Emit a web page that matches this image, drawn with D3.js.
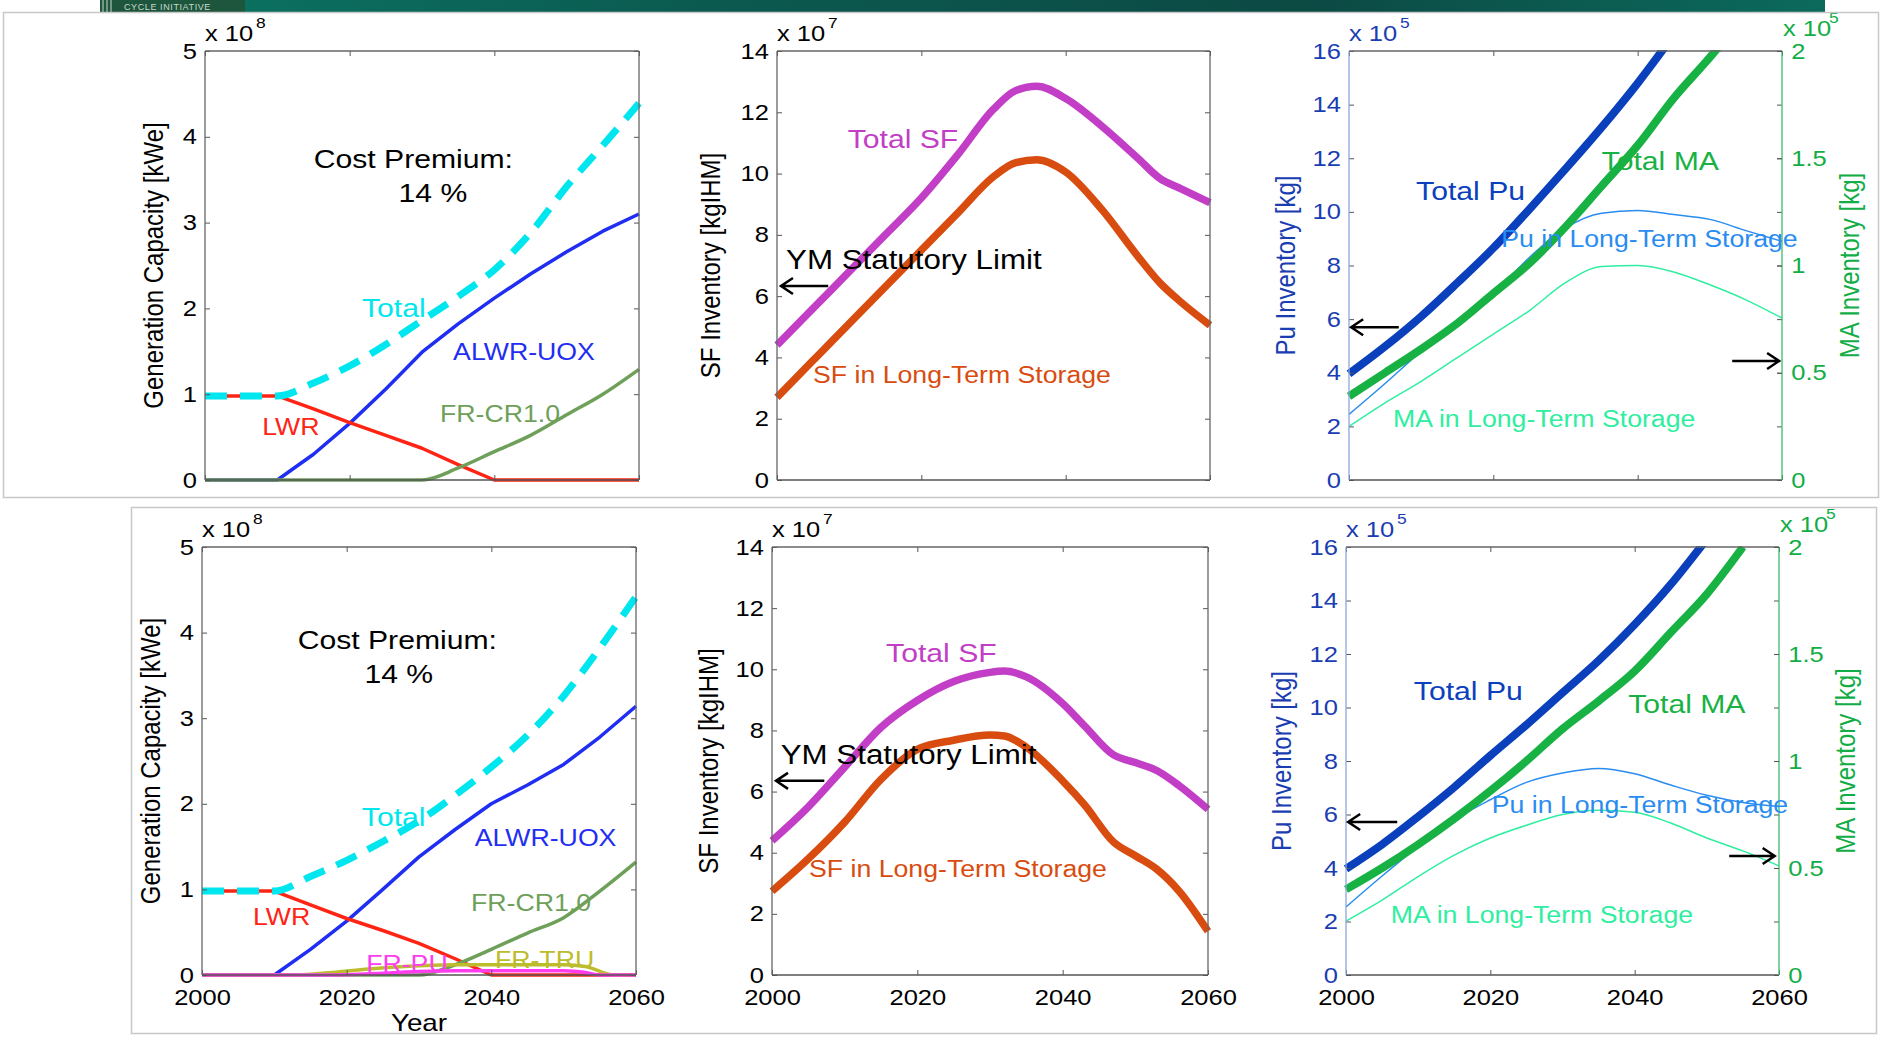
<!DOCTYPE html>
<html>
<head>
<meta charset="utf-8">
<script src="https://cdn.jsdelivr.net/npm/d3@7"></script>
<style>
  body { margin: 0; background: #fff; }
  svg { display: block; }
  text { font-family: "Liberation Sans", Arial, Helvetica, sans-serif; }
</style>
</head>
<body>
<svg id="chart"></svg>
<script>
// ---- data ----
const years = [2000, 2005, 2010, 2015, 2020, 2025, 2030, 2035, 2040, 2045, 2050, 2055, 2060];

// generation capacity, x 1e8 kWe
const capTotalTop = [0.98, 0.98, 0.98, 1.13, 1.33, 1.58, 1.86, 2.14, 2.45, 2.88, 3.42, 3.9, 4.39];
const lwrTop      = [0.98, 0.98, 0.98, 0.83, 0.67, 0.52, 0.37, 0.18, 0, 0, 0, 0, 0];
const alwrTop     = [0, 0, 0, 0.3, 0.66, 1.06, 1.49, 1.82, 2.12, 2.4, 2.66, 2.9, 3.1];
const frcrTop     = [0, 0, 0, 0, 0, 0, 0, 0.14, 0.33, 0.52, 0.76, 1.0, 1.29];

const capTotalBot = [0.98, 0.98, 0.98, 1.15, 1.34, 1.56, 1.8, 2.1, 2.43, 2.8, 3.26, 3.82, 4.42];
const lwrBot      = [0.98, 0.98, 0.98, 0.82, 0.66, 0.52, 0.37, 0.19, 0, 0, 0, 0, 0];
const alwrBot     = [0, 0, 0, 0.3, 0.63, 1.0, 1.38, 1.7, 2.0, 2.22, 2.46, 2.78, 3.14];
const frcrBot     = [0, 0, 0, 0, 0, 0, 0, 0.12, 0.3, 0.49, 0.67, 0.98, 1.32];
const truYears    = [2000, 2013, 2018, 2023, 2028, 2035, 2050, 2053, 2057, 2060];
const frtruBot    = [0, 0, 0.03, 0.07, 0.1, 0.12, 0.12, 0.1, 0, 0];
const frpuYears   = [2000, 2018, 2025, 2030, 2035, 2050, 2053, 2055, 2060];
const frpuBot     = [0, 0, 0.02, 0.04, 0.05, 0.05, 0.03, 0, 0];

// spent fuel inventory, x 1e7 kgIHM
const sfYearsTop  = [2000, 2005, 2010, 2015, 2020, 2025, 2030, 2033, 2036, 2040, 2045, 2050, 2053, 2056, 2060];
const sfTotalTop  = [4.4, 5.6, 6.8, 8.0, 9.2, 10.6, 12.1, 12.7, 12.85, 12.45, 11.55, 10.5, 9.85, 9.5, 9.05];
const sfLtsTop    = [2.7, 3.9, 5.1, 6.3, 7.5, 8.7, 9.9, 10.35, 10.45, 10.05, 8.83, 7.3, 6.45, 5.8, 5.05];

const sfYearsBot  = [2000, 2005, 2010, 2015, 2020, 2025, 2030, 2032, 2035, 2040, 2043, 2047, 2050, 2053, 2056, 2060];
const sfTotalBot  = [4.39, 5.5, 6.8, 8.1, 8.98, 9.6, 9.9, 9.94, 9.75, 8.88, 8.15, 7.2, 6.95, 6.68, 6.2, 5.42];
const sfLtsBot    = [2.74, 3.8, 5.0, 6.4, 7.38, 7.68, 7.85, 7.82, 7.45, 6.35, 5.57, 4.35, 3.9, 3.45, 2.75, 1.43];

// Pu inventory (x 1e5 kg, left axis) and MA inventory (x 1e5 kg, right axis)
const puYearsTop  = [2000, 2005, 2010, 2015, 2020, 2025, 2030, 2035, 2040, 2045];
const puTotalTop  = [3.96, 4.98, 6.1, 7.35, 8.65, 10.1, 11.6, 13.15, 14.8, 16.6];
const maYearsTop  = [2000, 2005, 2010, 2015, 2020, 2025, 2030, 2035, 2040, 2045, 2050, 2052];
const maTotalTop  = [0.39, 0.5, 0.61, 0.73, 0.87, 1.01, 1.18, 1.37, 1.56, 1.78, 1.97, 2.05];
const puLtsTop    = [2.45, 3.6, 4.8, 5.85, 6.95, 8.3, 9.4, 9.95, 10.05, 9.9, 9.72, 9.3, 8.9];
const maLtsTop    = [0.25, 0.36, 0.46, 0.57, 0.68, 0.79, 0.92, 0.995, 1.0, 0.97, 0.91, 0.84, 0.755];

const puYearsBot  = [2000, 2005, 2010, 2015, 2020, 2025, 2030, 2035, 2040, 2045, 2050];
const puTotalBot  = [3.97, 4.88, 5.92, 7.02, 8.2, 9.35, 10.55, 11.75, 13.1, 14.6, 16.3];
const maYearsBot  = [2000, 2005, 2010, 2015, 2020, 2025, 2030, 2035, 2040, 2045, 2050, 2055];
const maTotalBot  = [0.4, 0.5, 0.61, 0.73, 0.86, 1.0, 1.15, 1.28, 1.42, 1.6, 1.78, 2.0];
const puLtsBot    = [2.54, 3.7, 4.8, 5.8, 6.55, 7.2, 7.55, 7.72, 7.52, 7.1, 6.72, 6.45, 6.3];
const maLtsBot    = [0.252, 0.35, 0.46, 0.56, 0.64, 0.7, 0.75, 0.77, 0.76, 0.71, 0.64, 0.58, 0.51];

const xTicks = [2000, 2020, 2040, 2060];

// ---- setup ----
const W = 1881, H = 1038;
const SX = 1.16; // the slide is stretched sideways, so is its text
const svg = d3.select('#chart').attr('width', W).attr('height', H);

// banner strip at the very top
const grad = svg.append('defs').append('linearGradient').attr('id', 'band');
[['0%', '#1f5a3e'], ['8%', '#0b7060'], ['35%', '#0b5a50'], ['70%', '#0c4a44'], ['100%', '#0b6a5c']]
  .forEach(s => grad.append('stop').attr('offset', s[0]).attr('stop-color', s[1]));
svg.append('rect').attr('x', 100).attr('y', 0).attr('width', 1725).attr('height', 12).attr('fill', 'url(#band)');
svg.append('rect').attr('x', 100).attr('y', 0).attr('width', 145).attr('height', 12).attr('fill', '#1d563c');
[103, 107, 111].forEach(v => svg.append('line').attr('x1', v).attr('x2', v).attr('y1', 0).attr('y2', 12)
  .attr('stroke', '#c9d8cc').attr('stroke-width', 1));
svg.append('text').attr('x', 124).attr('y', 10).attr('font-size', 9).attr('fill', '#c9d8cc')
  .attr('letter-spacing', 0.6).text('CYCLE INITIATIVE');

function txt(g, x, y, s, o = {}) {
  return g.append('text')
    .attr('transform', `translate(${x},${y}) scale(${SX},1)` + (o.rotate ? ` rotate(${o.rotate})` : ''))
    .attr('text-anchor', o.anchor || 'start')
    .attr('font-size', o.size || 22)
    .attr('fill', o.color || '#000')
    .text(s);
}

let clipN = 0;
function makePanel(box, yMax) {
  const x = d3.scaleLinear().domain([2000, 2060]).range([box.x0, box.x1]);
  const y = d3.scaleLinear().domain([0, yMax]).range([box.y1, box.y0]);
  const g = svg.append('g');
  const id = 'clip' + (clipN++);
  svg.append('clipPath').attr('id', id).append('rect')
    .attr('x', box.x0 - 6).attr('y', box.y0 - 1)
    .attr('width', box.x1 - box.x0 + 12).attr('height', box.y1 - box.y0 + 8);
  const plot = g.append('g').attr('clip-path', `url(#${id})`);
  return { x, y, g, plot, box };
}

function styleAxis(sel, color, withText) {
  sel.select('.domain').remove();
  sel.selectAll('.tick line').attr('stroke', '#555').attr('stroke-width', 1);
  sel.selectAll('text')
    .attr('font-size', 22)
    .attr('font-family', '"Liberation Sans", Arial, sans-serif')
    .attr('fill', color)
    .attr('transform', `scale(${SX},1)`);
  if (!withText) sel.selectAll('text').remove();
}

function axes(p, o) {
  const { g, x, y, box } = p;
  g.append('g').attr('transform', `translate(0,${box.y1})`)
    .call(d3.axisBottom(x).tickValues(xTicks).tickSize(-5).tickPadding(14).tickFormat(d3.format('d')))
    .call(s => styleAxis(s, '#000', o.showX));
  g.append('g').attr('transform', `translate(0,${box.y0})`)
    .call(d3.axisTop(x).tickValues(xTicks).tickSize(-5))
    .call(s => styleAxis(s, '#000', false));
  g.append('g').attr('transform', `translate(${box.x0},0)`)
    .call(d3.axisLeft(y).tickValues(o.yTicks).tickSize(-5).tickPadding(7).tickFormat(d3.format('d')))
    .call(s => styleAxis(s, o.yColor || '#000', true));
  g.append('g').attr('transform', `translate(${box.x1},0)`)
    .call(d3.axisRight(y).tickValues(o.yTicks).tickSize(-5))
    .call(s => styleAxis(s, '#000', false));

  // box
  const line = (x1, y1, x2, y2, c) => g.append('line').attr('x1', x1).attr('y1', y1).attr('x2', x2).attr('y2', y2)
    .attr('stroke', c).attr('stroke-width', 1.3);
  line(box.x0, box.y0, box.x1, box.y0, '#666');
  line(box.x0, box.y1, box.x1, box.y1, '#555');
  line(box.x0, box.y0, box.x0, box.y1, o.leftLine || '#666');
  line(box.x1, box.y0, box.x1, box.y1, o.rightLine || '#666');

  // exponent
  const ec = o.yColor || '#000';
  txt(g, box.x0, box.y0 - 10, 'x 10', { size: 22, color: ec });
  txt(g, box.x0 + 51, box.y0 - 23, o.exp, { size: 15, color: ec });

  // y title
  txt(g, box.x0 - o.titleOff, (box.y0 + box.y1) / 2, o.title,
    { size: 24, anchor: 'middle', rotate: -90, color: o.yColor || '#000' });
}

function drawLine(p, xs, vals, yScale, st) {
  const data = xs.map((d, i) => [d, vals[i]]);
  p.plot.append('path').datum(data)
    .attr('fill', 'none')
    .attr('stroke', st.color)
    .attr('stroke-width', st.width)
    .attr('stroke-dasharray', st.dash || null)
    .attr('stroke-linejoin', 'round')
    .attr('d', d3.line().x(d => p.x(d[0])).y(d => yScale(d[1]))
      .curve(st.smooth ? d3.curveMonotoneX : d3.curveLinear));
}

function arrow(p, xFrom, xTo, v, yScale) {
  const x1 = p.x(xFrom), x2 = p.x(xTo), yy = yScale(v);
  const dir = x2 < x1 ? 1 : -1;
  p.g.append('path')
    .attr('d', `M${x1},${yy}L${x2},${yy}M${x2 + dir * 12},${yy - 8}L${x2},${yy}L${x2 + dir * 12},${yy + 8}`)
    .attr('fill', 'none').attr('stroke', '#000').attr('stroke-width', 2.5);
}

function label(p, yr, v, s, color, size, anchor) {
  txt(p.g, p.x(yr), p.y(v), s, { color, size, anchor });
}

// ---- colours ----
const C = {
  total: '#00e6ef', lwr: '#ff2414', alwr: '#1f2ef2', frcr: '#6ea05a', frpu: '#ff3cf0', frtru: '#bcbc2c',
  sfTotal: '#c23ec6', sfLts: '#d84c10',
  puTotal: '#0b40bd', maTotal: '#18b244', puLts: '#2a8cf0', maLts: '#30eea0',
  puTick: '#1a3db2', maTick: '#12ad46'
};

// ---- panel builders ----
function capacityPanel(box, d, bottom) {
  const p = makePanel(box, 5);
  axes(p, { yTicks: [0, 1, 2, 3, 4, 5], showX: bottom, exp: '8', title: 'Generation Capacity [kWe]', titleOff: 42 });
  drawLine(p, years, d.alwr, p.y, { color: C.alwr, width: 3.5 });
  drawLine(p, years, d.lwr, p.y, { color: C.lwr, width: 3.5 });
  drawLine(p, years, d.frcr, p.y, { color: C.frcr, width: 3.5, smooth: true });
  if (d.tru) drawLine(p, truYears, d.tru, p.y, { color: C.frtru, width: 3.5, smooth: true });
  if (d.pu) drawLine(p, frpuYears, d.pu, p.y, { color: C.frpu, width: 3.5, smooth: true });
  drawLine(p, years, d.total, p.y, { color: C.total, width: 7, dash: '22,13', smooth: true });
  const L = d.labels;
  txt(p.g, p.x(L.cost[0]), p.y(L.cost[1]), 'Cost Premium:', { size: 26, anchor: 'middle' });
  txt(p.g, p.x(L.pct[0]), p.y(L.pct[1]), '14 %', { size: 26, anchor: 'middle' });
  label(p, L.total[0], L.total[1], 'Total', C.total, 26);
  label(p, L.alwr[0], L.alwr[1], 'ALWR-UOX', C.alwr, 23);
  label(p, L.lwr[0], L.lwr[1], 'LWR', C.lwr, 23);
  label(p, L.frcr[0], L.frcr[1], 'FR-CR1.0', C.frcr, 23);
  if (L.frpu) label(p, L.frpu[0], L.frpu[1], 'FR-PU', C.frpu, 23);
  if (L.frtru) label(p, L.frtru[0], L.frtru[1], 'FR-TRU', C.frtru, 23);
  if (bottom) txt(p.g, (box.x0 + box.x1) / 2, 1031, 'Year', { size: 24, anchor: 'middle' });
}

function sfPanel(box, d, bottom) {
  const p = makePanel(box, 14);
  axes(p, { yTicks: d3.range(0, 15, 2), showX: bottom, exp: '7', title: 'SF Inventory [kgIHM]', titleOff: d.titleOff });
  drawLine(p, d.years, d.lts, p.y, { color: C.sfLts, width: 7.5, smooth: true });
  drawLine(p, d.years, d.total, p.y, { color: C.sfTotal, width: 7.5, smooth: true });
  const L = d.labels;
  label(p, L.total[0], L.total[1], 'Total SF', C.sfTotal, 26);
  label(p, L.ym[0], L.ym[1], 'YM Statutory Limit', '#000', 27);
  arrow(p, L.arrow[0], L.arrow[1], L.arrow[2], p.y);
  label(p, L.lts[0], L.lts[1], 'SF in Long-Term Storage', C.sfLts, 23);
}

function puPanel(box, d, bottom) {
  const p = makePanel(box, 16);
  const yMA = d3.scaleLinear().domain([0, 2]).range([box.y1, box.y0]);
  axes(p, {
    yTicks: d3.range(0, 17, 2), showX: bottom, exp: '5', title: 'Pu Inventory [kg]', titleOff: d.titleOff,
    yColor: C.puTick, leftLine: '#8ea6dc', rightLine: '#3cbc6c'
  });
  // right axis for MA
  p.g.append('g').attr('transform', `translate(${box.x1},0)`)
    .call(d3.axisRight(yMA).tickValues([0, 0.5, 1, 1.5, 2]).tickSize(-5).tickPadding(8).tickFormat(d3.format('~g')))
    .call(s => styleAxis(s, C.maTick, true));
  txt(p.g, box.x1 + 1, box.y0 - 15, 'x 10', { size: 22, color: C.maTick });
  txt(p.g, box.x1 + 47, box.y0 - 28, '5', { size: 15, color: C.maTick });
  txt(p.g, box.x1 + d.rightOff, (box.y0 + box.y1) / 2, 'MA Inventory [kg]',
    { size: 24, anchor: 'middle', rotate: -90, color: C.maTick });

  drawLine(p, years, d.maLts, yMA, { color: C.maLts, width: 1.5, smooth: true });
  drawLine(p, years, d.puLts, p.y, { color: C.puLts, width: 1.5, smooth: true });
  drawLine(p, d.maYears, d.maTotal, yMA, { color: C.maTotal, width: 8, smooth: true });
  drawLine(p, d.puYears, d.puTotal, p.y, { color: C.puTotal, width: 8, smooth: true });
  const L = d.labels;
  label(p, L.puTotal[0], L.puTotal[1], 'Total Pu', C.puTotal, 26);
  label(p, L.maTotal[0], L.maTotal[1], 'Total MA', C.maTotal, 26);
  label(p, L.puLts[0], L.puLts[1], 'Pu in Long-Term Storage', C.puLts, 23);
  label(p, L.maLts[0], L.maLts[1], 'MA in Long-Term Storage', C.maLts, 23);
  arrow(p, L.left[0], L.left[1], L.left[2], p.y);
  arrow(p, L.right[0], L.right[1], L.right[2], p.y);
}

// ---- top row ----
capacityPanel({ x0: 205, x1: 639, y0: 51, y1: 480 }, {
  total: capTotalTop, lwr: lwrTop, alwr: alwrTop, frcr: frcrTop,
  labels: { cost: [2028.8, 3.64], pct: [2031.5, 3.24], total: [2021.7, 1.9], alwr: [2034.3, 1.4],
            lwr: [2007.9, 0.52], frcr: [2032.5, 0.68] }
}, false);

sfPanel({ x0: 777, x1: 1210, y0: 51, y1: 480 }, {
  years: sfYearsTop, total: sfTotalTop, lts: sfLtsTop, titleOff: 57,
  labels: { total: [2009.8, 10.84], ym: [2001.25, 6.89], arrow: [2007.1, 2000.55, 6.33], lts: [2005.0, 3.17] }
}, false);

puPanel({ x0: 1349, x1: 1782, y0: 51, y1: 480 }, {
  puYears: puYearsTop, puTotal: puTotalTop, maYears: maYearsTop, maTotal: maTotalTop,
  puLts: puLtsTop, maLts: maLtsTop, titleOff: 54, rightOff: 77,
  labels: { puTotal: [2009.3, 10.45], maTotal: [2035.0, 11.55], puLts: [2021.1, 8.7], maLts: [2006.1, 1.98],
            left: [2006.9, 2000.3, 5.7], right: [2053.1, 2059.6, 4.44] }
}, false);

// ---- bottom row ----
capacityPanel({ x0: 202, x1: 636, y0: 547, y1: 975 }, {
  total: capTotalBot, lwr: lwrBot, alwr: alwrBot, frcr: frcrBot, tru: frtruBot, pu: frpuBot,
  labels: { cost: [2027.0, 3.81], pct: [2027.2, 3.41], total: [2022.1, 1.74], alwr: [2037.7, 1.51],
            lwr: [2007.05, 0.58], frcr: [2037.2, 0.75], frpu: [2022.7, 0.035], frtru: [2040.5, 0.08] }
}, true);

sfPanel({ x0: 772, x1: 1208, y0: 547, y1: 975 }, {
  years: sfYearsBot, total: sfTotalBot, lts: sfLtsBot, titleOff: 54,
  labels: { total: [2015.7, 10.24], ym: [2001.2, 6.9], arrow: [2007.2, 2000.55, 6.35], lts: [2005.1, 3.2] }
}, true);

puPanel({ x0: 1346, x1: 1779, y0: 547, y1: 975 }, {
  puYears: puYearsBot, puTotal: puTotalBot, maYears: maYearsBot, maTotal: maTotalBot,
  puLts: puLtsBot, maLts: maLtsBot, titleOff: 55, rightOff: 76,
  labels: { puTotal: [2009.4, 10.28], maTotal: [2039.1, 9.79], puLts: [2020.2, 6.06], maLts: [2006.2, 1.94],
            left: [2007.1, 2000.3, 5.72], right: [2053.1, 2059.4, 4.45] }
}, true);

// slide frames around each row
svg.append('rect').attr('x', 3.5).attr('y', 12.5).attr('width', 1875).attr('height', 485)
  .attr('fill', 'none').attr('stroke', '#c8c8c8').attr('stroke-width', 1.5);
svg.append('rect').attr('x', 131.5).attr('y', 507.5).attr('width', 1745).attr('height', 526)
  .attr('fill', 'none').attr('stroke', '#c8c8c8').attr('stroke-width', 1.5);
</script>
</body>
</html>
